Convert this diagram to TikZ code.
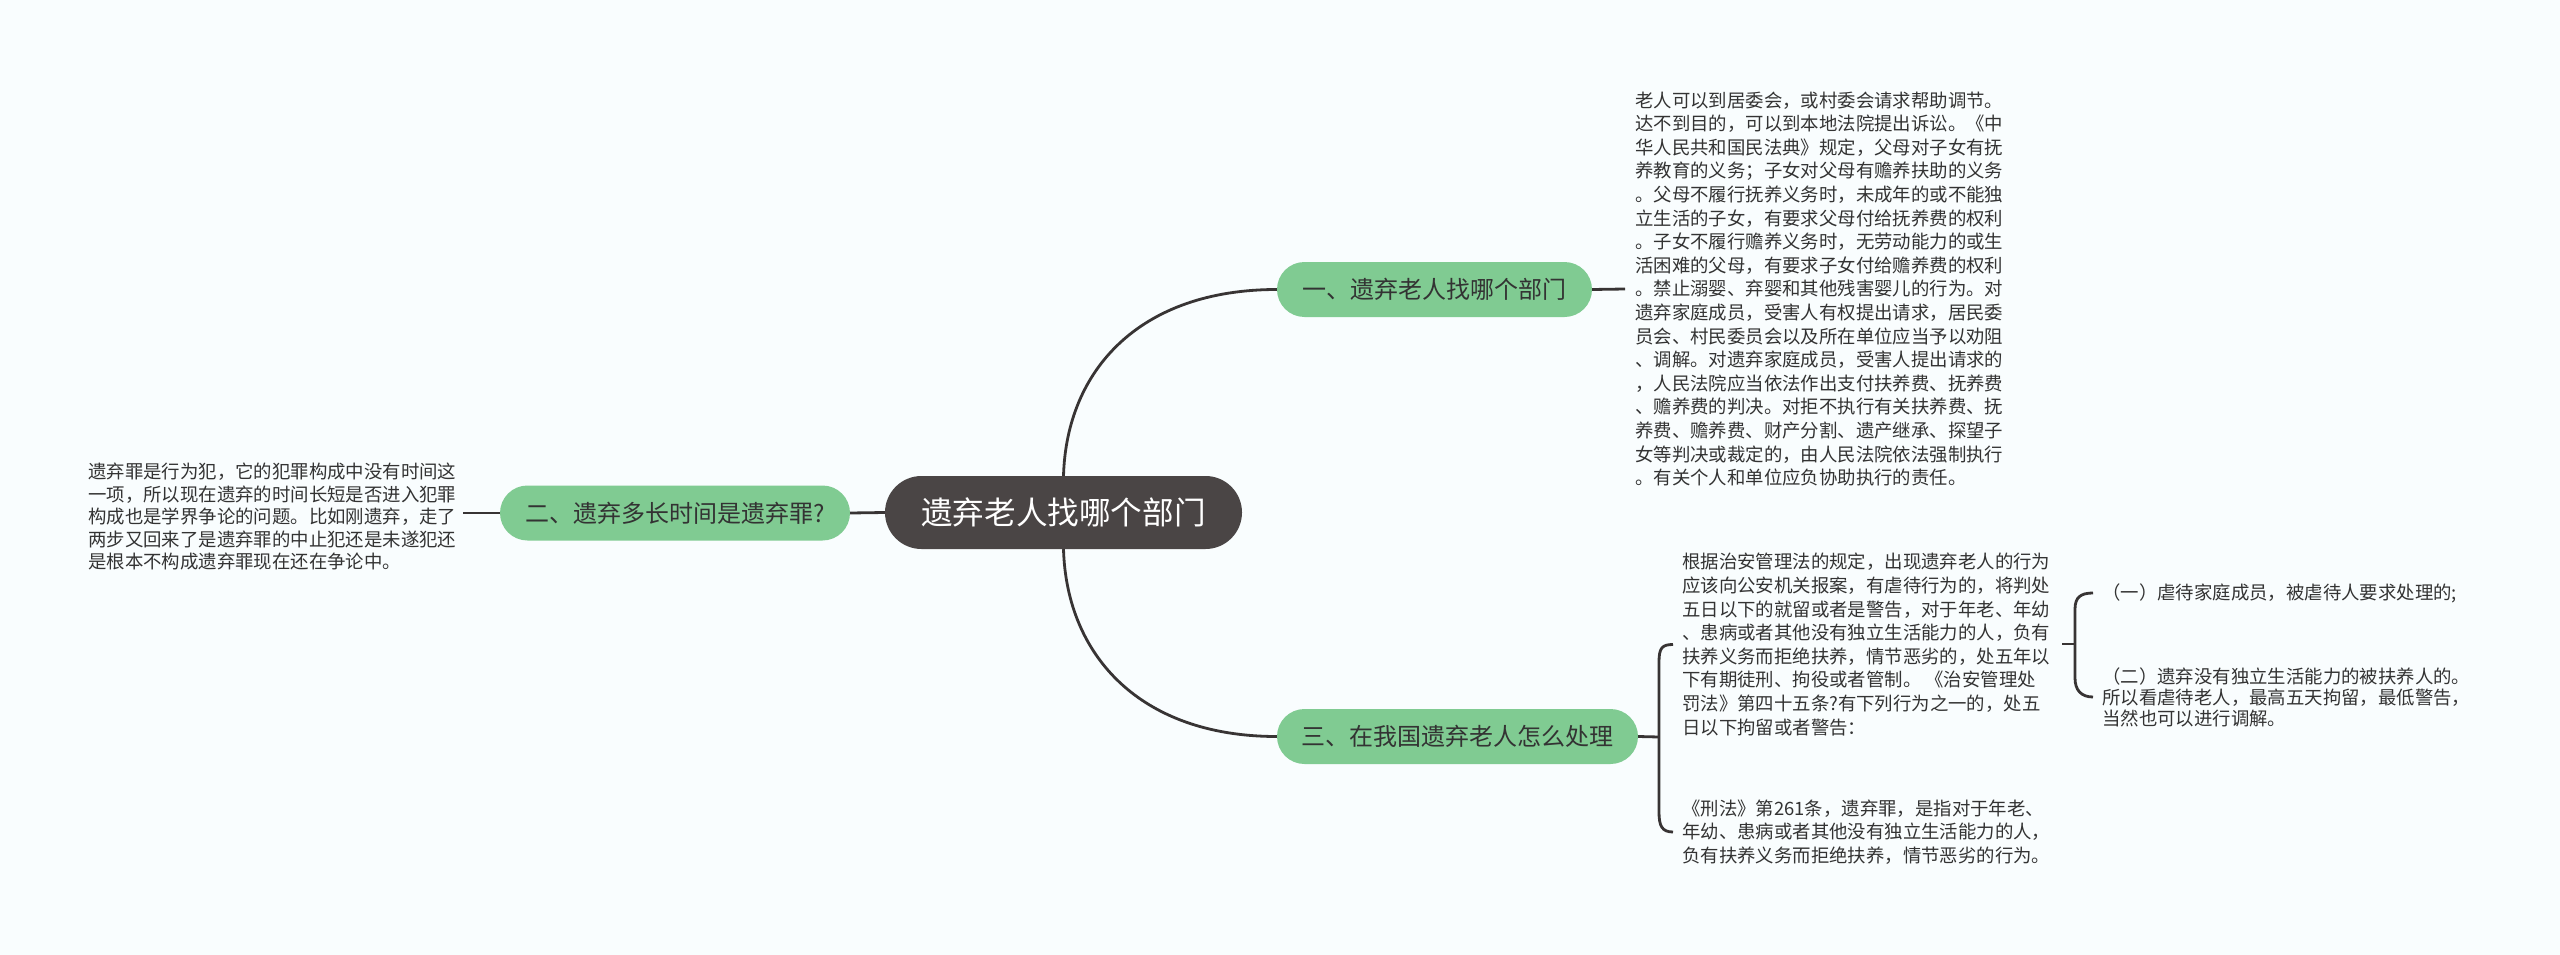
\documentclass[tikz,border=0pt]{standalone}
\usepackage{fontspec}
\setmainfont{Noto Sans CJK SC}
\definecolor{bg}{RGB}{249,253,254}
\definecolor{gr}{RGB}{128,203,146}
\definecolor{dk}{RGB}{74,69,69}
\definecolor{ln}{RGB}{56,52,52}
\definecolor{tx}{RGB}{51,51,51}
\begin{document}
\begin{tikzpicture}[x=1pt,y=-1pt,
  conn/.style={draw=ln,line width=2.8pt},
  topic/.style={fill=gr,text=tx,rounded corners=27.5pt,minimum height=55pt,inner sep=0pt,font=\fontsize{24}{28}\selectfont},
  root/.style={fill=dk,text=white,rounded corners=36.5pt,minimum height=73pt,minimum width=357pt,inner sep=0pt,font=\fontsize{31.6}{36}\selectfont},
  body/.style={anchor=west,inner sep=0pt,align=left,text=tx,font=\fontsize{18.4}{23.6}\selectfont}]
\fill[bg] (0,0) rectangle (2560,955);
\useasboundingbox (0,0) rectangle (2560,955);

\node[root] (c) at (1063.5,512.5) {遗弃老人找哪个部门};
\node[topic,minimum width=315pt] (n1) at (1434.5,289.5) {一、遗弃老人找哪个部门};
\node[topic,minimum width=350pt] (n2) at (675,513) {二、遗弃多长时间是遗弃罪?};
\node[topic,minimum width=361pt] (n3) at (1457.5,736.5) {三、在我国遗弃老人怎么处理};

\node[body] (t1) at (1635,289) {老人可以到居委会，或村委会请求帮助调节。\\
达不到目的，可以到本地法院提出诉讼。《中\\
华人民共和国民法典》规定，父母对子女有抚\\
养教育的义务；子女对父母有赡养扶助的义务\\
。父母不履行抚养义务时，未成年的或不能独\\
立生活的子女，有要求父母付给抚养费的权利\\
。子女不履行赡养义务时，无劳动能力的或生\\
活困难的父母，有要求子女付给赡养费的权利\\
。禁止溺婴、弃婴和其他残害婴儿的行为。对\\
遗弃家庭成员，受害人有权提出请求，居民委\\
员会、村民委员会以及所在单位应当予以劝阻\\
、调解。对遗弃家庭成员，受害人提出请求的\\
，人民法院应当依法作出支付扶养费、抚养费\\
、赡养费的判决。对拒不执行有关扶养费、抚\\
养费、赡养费、财产分割、遗产继承、探望子\\
女等判决或裁定的，由人民法院依法强制执行\\
。有关个人和单位应负协助执行的责任。};

\node[body,font=\fontsize{18.4}{22.5}\selectfont] (t2) at (88,516.5) {遗弃罪是行为犯，它的犯罪构成中没有时间这\\
一项，所以现在遗弃的时间长短是否进入犯罪\\
构成也是学界争论的问题。比如刚遗弃，走了\\
两步又回来了是遗弃罪的中止犯还是未遂犯还\\
是根本不构成遗弃罪现在还在争论中。};

\node[body] (t3a) at (1682,644.5) {根据治安管理法的规定，出现遗弃老人的行为\\
应该向公安机关报案，有虐待行为的，将判处\\
五日以下的就留或者是警告，对于年老、年幼\\
、患病或者其他没有独立生活能力的人，负有\\
扶养义务而拒绝扶养，情节恶劣的，处五年以\\
下有期徒刑、拘役或者管制。 《治安管理处\\
罚法》第四十五条?有下列行为之一的，处五\\
日以下拘留或者警告：};

\node[body] (t3b) at (1682,832) {《刑法》第261条，遗弃罪，是指对于年老、\\
年幼、患病或者其他没有独立生活能力的人，\\
负有扶养义务而拒绝扶养，情节恶劣的行为。};

\node[body] (ch1) at (2102,593) {（一）虐待家庭成员，被虐待人要求处理的;};
\node[body,font=\fontsize{18.4}{21}\selectfont] (ch2) at (2102,697) {（二）遗弃没有独立生活能力的被扶养人的。\\
所以看虐待老人，最高五天拘留，最低警告，\\
当然也可以进行调解。};

% connectors from root
\draw[conn] (c.north) .. controls +(3,-106) and +(-137,0) .. (n1.west);
\draw[conn] (c.south) .. controls +(3,106) and +(-137,0) .. (n3.west);
\draw[conn] (c.west) -- (n2.east);

% topic to text
\draw[conn] (n1.east) -- ([xshift=-10pt]t1.west);
\draw[conn] ([xshift=7pt]t2.east |- n2.west) -- (n2.west);

% bracket for topic 3
\coordinate (b1) at (1659,737);
\draw[conn] (n3.east) -- (b1);
\draw[conn] ([xshift=-9pt]t3a.west) .. controls +(-11,0) and +(0,-14) .. (1659,662)
  -- (1659,812) .. controls +(0,14) and +(-11,0) .. ([xshift=-9pt]t3b.west);

% bracket for text 3a
\coordinate (b2) at (2075,644);
\draw[conn] ([xshift=12pt]t3a.east |- b2) -- (b2);
\draw[conn] ([xshift=-9pt]ch1.west) .. controls +(-12,0) and +(0,-12) .. (2075,609)
  -- (2075,678) .. controls +(0,12) and +(-12,0) .. ([xshift=-9pt]ch2.west);
\end{tikzpicture}
\end{document}
